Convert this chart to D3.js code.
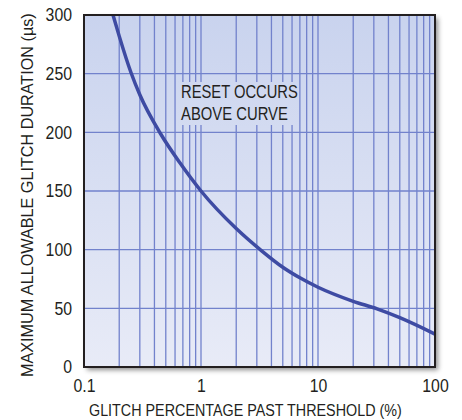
<!DOCTYPE html>
<html>
<head>
<meta charset="utf-8">
<script src="https://cdn.jsdelivr.net/npm/d3@7"></script>
<style>
  body { margin: 0; background: #fff; }
  text { font-family: "Liberation Sans Narrow", "Liberation Sans", Arial, sans-serif; fill: #231f20; }
</style>
</head>
<body>
<svg id="chart"></svg>
<script>
// data
const glitchPct = [0.177, 0.2, 0.252, 0.3, 0.45, 0.66, 1, 2, 3.3, 5, 7, 10, 20, 32, 50, 100];
const glitchDur = [300, 282, 251, 232, 199, 174, 150, 118, 99, 85, 76, 68, 56, 49.5, 42, 28];
const xTicks = [0.1, 1, 10, 100];
const yTicks = [0, 50, 100, 150, 200, 250, 300];

const width = 462;
const height = 420;
const margin = { top: 15, right: 27, bottom: 53, left: 84 };
const w = width - margin.left - margin.right;
const h = height - margin.top - margin.bottom;
const squeeze = 0.88; // condensed look for tick labels

const svg = d3.select('#chart')
    .attr('width', width)
    .attr('height', height);

const defs = svg.append('defs');
const grad = defs.append('linearGradient')
    .attr('id', 'bg')
    .attr('gradientUnits', 'userSpaceOnUse')
    .attr('x1', 0).attr('y1', 0).attr('x2', 0).attr('y2', h);
grad.append('stop').attr('offset', '0%').attr('stop-color', '#c9d3ee');
grad.append('stop').attr('offset', '100%').attr('stop-color', '#e8ebf7');

const shadow = defs.append('filter')
    .attr('id', 'shadow')
    .attr('x', '-10%').attr('y', '-10%').attr('width', '130%').attr('height', '130%');
shadow.append('feDropShadow')
    .attr('dx', 3).attr('dy', 3).attr('stdDeviation', 2.5)
    .attr('flood-color', '#000').attr('flood-opacity', 0.45);

const x = d3.scaleLog().domain([0.1, 100]).range([0, w]);
const y = d3.scaleLinear().domain([0, 300]).range([h, 0]);

const g = svg.append('g').attr('transform', `translate(${margin.left},${margin.top})`);

// frame with shadow
g.append('rect')
    .attr('width', w).attr('height', h)
    .attr('fill', 'url(#bg)')
    .attr('filter', 'url(#shadow)');

// grid
const minor = [];
[0.1, 1, 10].forEach(d => { for (let k = 1; k <= 9; k++) minor.push(d * k); });
g.append('g').selectAll('line')
    .data(minor.filter(d => d > 0.1))
    .join('line')
    .attr('x1', d => x(d)).attr('x2', d => x(d))
    .attr('y1', 0).attr('y2', h)
    .attr('stroke', '#7282cc').attr('stroke-width', 1.3);
g.append('g').selectAll('line')
    .data(yTicks.slice(1, -1))
    .join('line')
    .attr('x1', 0).attr('x2', w)
    .attr('y1', d => y(d)).attr('y2', d => y(d))
    .attr('stroke', '#7282cc').attr('stroke-width', 1.3);

// squeeze a text horizontally (in its own direction) to a target width
function fitWidth(sel, target, base) {
    const len = sel.node().getComputedTextLength();
    sel.attr('transform', `${base} scale(${target / len},1)`);
}

// label box
g.append('rect')
    .attr('x', 94).attr('y', 67).attr('width', 120).attr('height', 43)
    .attr('fill', 'url(#bg)');
const note1 = g.append('text').attr('font-size', 18).text('RESET OCCURS');
fitWidth(note1, 117, 'translate(97,83)');
const note2 = g.append('text').attr('font-size', 18).text('ABOVE CURVE');
fitWidth(note2, 107, 'translate(97,105)');

// curve
const pts = glitchPct.map((p, i) => [p, glitchDur[i]]);
g.append('path')
    .datum(pts)
    .attr('d', d3.line().x(d => x(d[0])).y(d => y(d[1])).curve(d3.curveMonotoneX))
    .attr('fill', 'none')
    .attr('stroke', '#3e4ba3')
    .attr('stroke-width', 3.5);

// border
g.append('rect')
    .attr('width', w).attr('height', h)
    .attr('fill', 'none')
    .attr('stroke', '#231f20').attr('stroke-width', 2);

// axes
const xAxis = g.append('g')
    .attr('transform', `translate(0,${h})`)
    .call(d3.axisBottom(x).tickValues(xTicks).tickFormat(d3.format('~g')).tickSize(0).tickPadding(12));
xAxis.select('.domain').remove();
xAxis.selectAll('text')
    .attr('font-size', 18).attr('fill', '#231f20').attr('font-family', null)
    .attr('transform', `scale(${squeeze},1)`);

const yAxis = g.append('g')
    .call(d3.axisLeft(y).tickValues(yTicks).tickSize(0));
yAxis.select('.domain').remove();
yAxis.selectAll('text')
    .attr('font-size', 18).attr('fill', '#231f20').attr('font-family', null)
    .attr('x', -12 / squeeze)
    .attr('transform', `scale(${squeeze},1)`);

// titles
const xTitle = svg.append('text')
    .attr('font-size', 17)
    .text('GLITCH PERCENTAGE PAST THRESHOLD (%)');
fitWidth(xTitle, 313, 'translate(89,416)');

const yTitle = svg.append('text')
    .attr('font-size', 17)
    .text('MAXIMUM ALLOWABLE GLITCH DURATION (µs)');
fitWidth(yTitle, 364, 'translate(33,377) rotate(-90)');
</script>
</body>
</html>
